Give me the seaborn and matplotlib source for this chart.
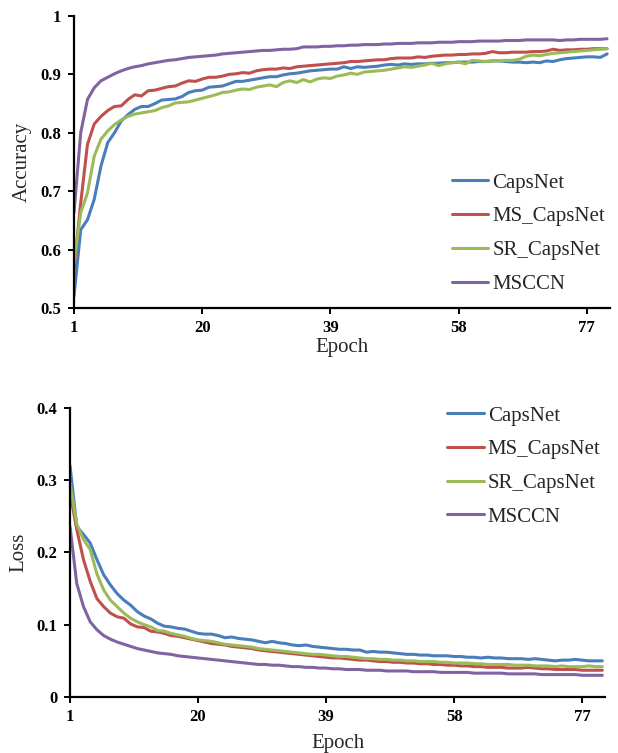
import matplotlib
matplotlib.use("Agg")
import matplotlib.pyplot as plt
import seaborn as sns
import numpy as np
import pandas as pd
from matplotlib.ticker import FuncFormatter

# epochs 1..80
epochs = list(range(1, 81))
models = ["CapsNet", "MS_CapsNet", "SR_CapsNet", "MSCCN"]
colors = ["#4A7EBB", "#C0504D", "#9BBB59", "#8064A2"]

# accuracy
acc_capsnet = [
    0.520, 0.634, 0.651, 0.686, 0.743, 0.783, 0.800, 0.820, 0.831, 0.840,
    0.845, 0.845, 0.850, 0.856, 0.857, 0.858, 0.862, 0.869, 0.872, 0.873,
    0.878, 0.879, 0.880, 0.884, 0.888, 0.888, 0.890, 0.892, 0.894, 0.896,
    0.896, 0.899, 0.901, 0.902, 0.904, 0.906, 0.907, 0.908, 0.909, 0.909,
    0.913, 0.910, 0.913, 0.912, 0.913, 0.914, 0.916, 0.917, 0.916, 0.918,
    0.917, 0.918, 0.918, 0.919, 0.919, 0.920, 0.920, 0.921, 0.921, 0.921,
    0.922, 0.922, 0.923, 0.923, 0.922, 0.921, 0.921, 0.920, 0.921, 0.920,
    0.923, 0.922, 0.925, 0.927, 0.928, 0.929, 0.930, 0.930, 0.929, 0.935]
acc_ms_capsnet = [
    0.566, 0.680, 0.780, 0.815, 0.828, 0.838, 0.845, 0.846, 0.857, 0.865,
    0.863, 0.872, 0.873, 0.876, 0.879, 0.880, 0.885, 0.889, 0.888, 0.892,
    0.895, 0.895, 0.897, 0.900, 0.901, 0.903, 0.902, 0.906, 0.908, 0.909,
    0.909, 0.911, 0.910, 0.913, 0.914, 0.915, 0.916, 0.917, 0.918, 0.919,
    0.920, 0.922, 0.922, 0.923, 0.924, 0.925, 0.925, 0.927, 0.928, 0.928,
    0.928, 0.930, 0.929, 0.931, 0.932, 0.933, 0.933, 0.934, 0.934, 0.935,
    0.935, 0.936, 0.939, 0.937, 0.937, 0.938, 0.938, 0.938, 0.939, 0.939,
    0.940, 0.943, 0.941, 0.942, 0.942, 0.943, 0.943, 0.944, 0.944, 0.944]
acc_sr_capsnet = [
    0.578, 0.663, 0.697, 0.760, 0.789, 0.803, 0.814, 0.822, 0.828, 0.832,
    0.834, 0.836, 0.838, 0.843, 0.846, 0.851, 0.852, 0.853, 0.856, 0.859,
    0.862, 0.865, 0.869, 0.870, 0.873, 0.875, 0.874, 0.878, 0.880, 0.882,
    0.879, 0.886, 0.889, 0.886, 0.891, 0.887, 0.892, 0.894, 0.893, 0.897,
    0.899, 0.902, 0.900, 0.904, 0.905, 0.906, 0.907, 0.909, 0.911, 0.913,
    0.912, 0.914, 0.916, 0.919, 0.915, 0.918, 0.920, 0.921, 0.918, 0.924,
    0.923, 0.922, 0.923, 0.923, 0.924, 0.924, 0.926, 0.931, 0.933, 0.932,
    0.934, 0.936, 0.937, 0.938, 0.939, 0.940, 0.941, 0.942, 0.943, 0.944]
acc_msccn = [
    0.663, 0.800, 0.857, 0.877, 0.889, 0.895, 0.901, 0.906, 0.910, 0.913,
    0.915, 0.918, 0.920, 0.922, 0.924, 0.925, 0.927, 0.929, 0.930, 0.931,
    0.932, 0.933, 0.935, 0.936, 0.937, 0.938, 0.939, 0.940, 0.941, 0.941,
    0.942, 0.943, 0.943, 0.944, 0.947, 0.947, 0.947, 0.948, 0.948, 0.949,
    0.949, 0.950, 0.950, 0.951, 0.951, 0.951, 0.952, 0.952, 0.953, 0.953,
    0.953, 0.954, 0.954, 0.954, 0.955, 0.955, 0.955, 0.956, 0.956, 0.956,
    0.957, 0.957, 0.957, 0.957, 0.958, 0.958, 0.958, 0.959, 0.959, 0.959,
    0.959, 0.959, 0.958, 0.959, 0.959, 0.960, 0.960, 0.960, 0.960, 0.961]

# loss
loss_capsnet = [
    0.320, 0.236, 0.225, 0.213, 0.190, 0.169, 0.155, 0.143, 0.134, 0.127,
    0.118, 0.112, 0.108, 0.102, 0.098, 0.097, 0.095, 0.094, 0.091, 0.088,
    0.087, 0.087, 0.085, 0.082, 0.083, 0.081, 0.080, 0.079, 0.077, 0.075,
    0.077, 0.075, 0.074, 0.072, 0.071, 0.072, 0.070, 0.069, 0.068, 0.067,
    0.066, 0.066, 0.065, 0.065, 0.062, 0.063, 0.062, 0.062, 0.061, 0.060,
    0.059, 0.059, 0.058, 0.058, 0.057, 0.057, 0.057, 0.056, 0.056, 0.055,
    0.055, 0.054, 0.055, 0.054, 0.054, 0.053, 0.053, 0.053, 0.052, 0.053,
    0.052, 0.051, 0.050, 0.051, 0.051, 0.052, 0.051, 0.050, 0.050, 0.050]
loss_ms_capsnet = [
    0.283, 0.232, 0.190, 0.160, 0.136, 0.125, 0.116, 0.111, 0.109, 0.101,
    0.097, 0.096, 0.091, 0.090, 0.088, 0.085, 0.084, 0.082, 0.080, 0.078,
    0.076, 0.074, 0.073, 0.072, 0.070, 0.069, 0.068, 0.067, 0.065, 0.064,
    0.063, 0.062, 0.061, 0.060, 0.059, 0.058, 0.057, 0.056, 0.055, 0.054,
    0.054, 0.053, 0.052, 0.051, 0.051, 0.050, 0.049, 0.049, 0.048, 0.048,
    0.047, 0.047, 0.046, 0.046, 0.045, 0.045, 0.044, 0.044, 0.043, 0.043,
    0.042, 0.042, 0.041, 0.041, 0.041, 0.040, 0.040, 0.040, 0.041, 0.040,
    0.039, 0.039, 0.038, 0.038, 0.038, 0.038, 0.037, 0.037, 0.037, 0.037]
loss_sr_capsnet = [
    0.296, 0.239, 0.218, 0.204, 0.170, 0.148, 0.134, 0.125, 0.116, 0.109,
    0.104, 0.100, 0.097, 0.092, 0.091, 0.088, 0.086, 0.084, 0.081, 0.079,
    0.078, 0.077, 0.075, 0.073, 0.072, 0.071, 0.070, 0.069, 0.067, 0.066,
    0.065, 0.064, 0.063, 0.062, 0.061, 0.060, 0.059, 0.059, 0.058, 0.057,
    0.056, 0.056, 0.055, 0.054, 0.053, 0.053, 0.052, 0.052, 0.051, 0.051,
    0.050, 0.050, 0.049, 0.049, 0.049, 0.048, 0.048, 0.047, 0.047, 0.047,
    0.046, 0.046, 0.045, 0.045, 0.045, 0.045, 0.044, 0.044, 0.044, 0.043,
    0.043, 0.043, 0.042, 0.043, 0.042, 0.042, 0.042, 0.043, 0.042, 0.042]
loss_msccn = [
    0.236, 0.157, 0.125, 0.104, 0.093, 0.085, 0.080, 0.076, 0.073, 0.070,
    0.067, 0.065, 0.063, 0.061, 0.060, 0.059, 0.057, 0.056, 0.055, 0.054,
    0.053, 0.052, 0.051, 0.050, 0.049, 0.048, 0.047, 0.046, 0.045, 0.045,
    0.044, 0.044, 0.043, 0.042, 0.042, 0.041, 0.041, 0.040, 0.040, 0.039,
    0.039, 0.038, 0.038, 0.038, 0.037, 0.037, 0.037, 0.036, 0.036, 0.036,
    0.036, 0.035, 0.035, 0.035, 0.035, 0.034, 0.034, 0.034, 0.034, 0.034,
    0.033, 0.033, 0.033, 0.033, 0.033, 0.032, 0.032, 0.032, 0.032, 0.032,
    0.031, 0.031, 0.031, 0.031, 0.031, 0.031, 0.030, 0.030, 0.030, 0.030]

x_ticks = [1, 20, 39, 58, 77]

acc_df = pd.DataFrame({
    "Epoch": epochs * 4,
    "Value": acc_capsnet + acc_ms_capsnet + acc_sr_capsnet + acc_msccn,
    "Model": np.repeat(models, len(epochs)),
})
loss_df = pd.DataFrame({
    "Epoch": epochs * 4,
    "Value": loss_capsnet + loss_ms_capsnet + loss_sr_capsnet + loss_msccn,
    "Model": np.repeat(models, len(epochs)),
})

sns.set_style("white")
plt.rcParams["font.family"] = ["Liberation Serif", "DejaVu Serif"]

fig = plt.figure(figsize=(6.18, 7.53), dpi=100)
ax1 = fig.add_axes([0.1197, 0.591, 0.867, 0.3878])
ax2 = fig.add_axes([0.1133, 0.0744, 0.8657, 0.3838])


def style_axis(ax, ylabel, ylim, yticks, legend_anchor, xpad):
    ax.set_xlim(1, 80.4)
    ax.set_ylim(*ylim)
    ax.set_xticks(x_ticks)
    ax.set_yticks(yticks)
    ax.yaxis.set_major_formatter(FuncFormatter(lambda v, p: f"{v:g}"))
    for s in ["top", "right"]:
        ax.spines[s].set_visible(False)
    for s in ["left", "bottom"]:
        ax.spines[s].set_color("black")
        ax.spines[s].set_linewidth(1.6)
    ax.tick_params(axis="both", direction="out", length=4, width=1.4,
                   colors="black", labelsize=12, pad=5)
    ax.tick_params(axis="both", left=True, bottom=True)
    for lab in ax.get_xticklabels() + ax.get_yticklabels():
        lab.set_fontweight("bold")
    ax.set_xlabel("Epoch", fontsize=15, labelpad=xpad)
    ax.set_ylabel(ylabel, fontsize=15, labelpad=6)
    ax.legend(loc="center left", bbox_to_anchor=legend_anchor, frameon=False,
              fontsize=15, handlelength=1.75, handletextpad=0.2,
              labelspacing=0.68, borderpad=0, borderaxespad=0)


sns.lineplot(data=acc_df, x="Epoch", y="Value", hue="Model", hue_order=models,
             palette=colors, linewidth=2.2, ax=ax1)
style_axis(ax1, "Accuracy", (0.5, 1.0), [0.5, 0.6, 0.7, 0.8, 0.9, 1.0],
           (0.705, 0.255), 1)

sns.lineplot(data=loss_df, x="Epoch", y="Value", hue="Model", hue_order=models,
             palette=colors, linewidth=2.2, ax=ax2)
style_axis(ax2, "Loss", (0.0, 0.4), [0.0, 0.1, 0.2, 0.3, 0.4],
           (0.705, 0.798), 6)

fig.savefig("out.png", dpi=100)
